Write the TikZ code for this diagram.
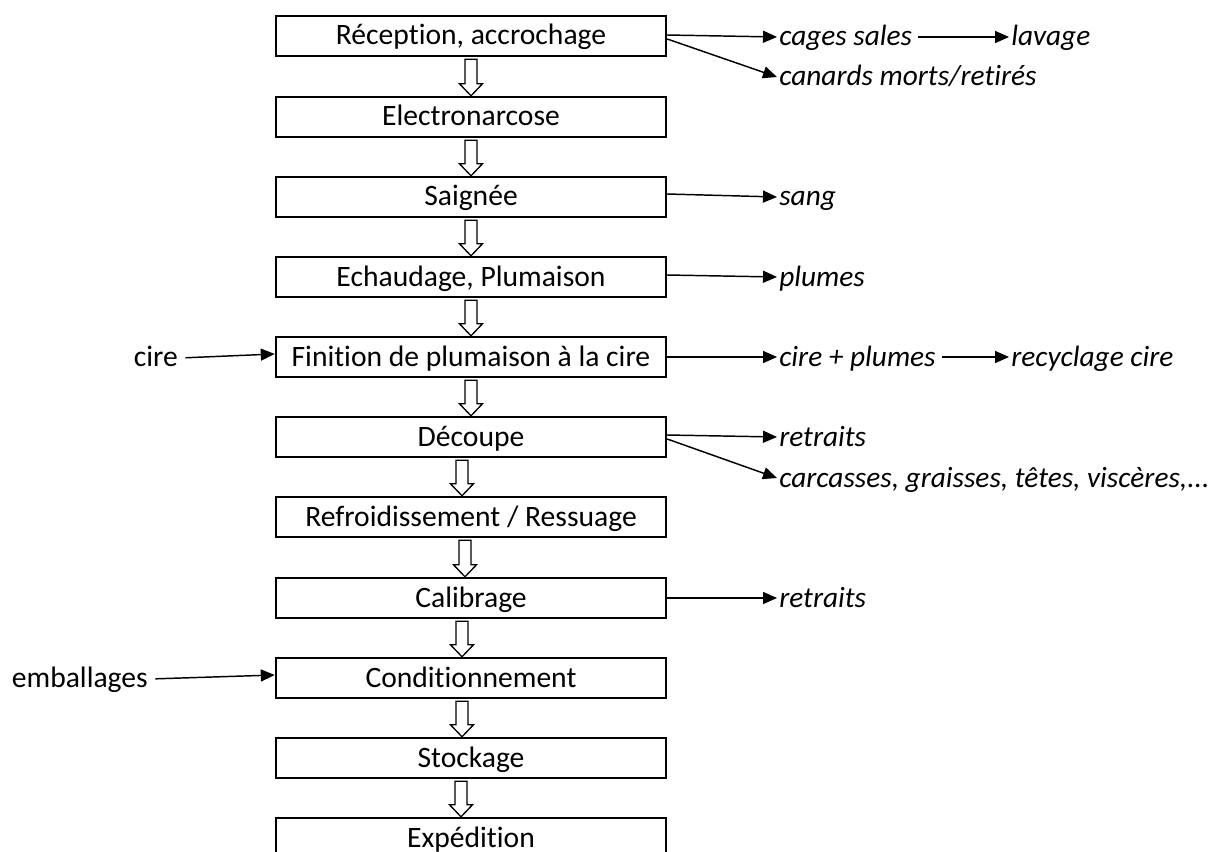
\documentclass[tikz,border=0pt]{standalone}
\usepackage{fontspec}
\setmainfont{Carlito}[Ligatures={NoCommon},ItalicFeatures={RawFeature={-liga;-clig}}]
\usetikzlibrary{arrows.meta,calc}
\begin{document}
\begin{tikzpicture}[x=0.75pt,y=-0.75pt,
  txt/.style={font=\fontsize{22.2}{26}\selectfont,text height=17pt,text depth=3.5pt},
  stepbox/.style={txt,draw,line width=1.8pt,minimum width=292.5pt,minimum height=30pt,inner sep=0pt},
  outtxt/.style={txt,anchor=west,inner sep=1.5pt,font=\fontsize{22}{26}\selectfont\itshape},
  intxt/.style={txt,anchor=east,inner sep=1.5pt},
  flow/.style={line width=1.1pt,-{Triangle[length=10.5pt,width=9pt]}},
  hollow/.style={line width=1pt,line join=miter,
    to path={let \p1=(\tikztostart), \p2=(\tikztotarget) in
      (\x1-4.5pt,\y1) -- (\x1+4.5pt,\y1) -- (\x1+4.5pt,\y2+9pt) -- (\x1+8.6pt,\y2+9pt)
      -- (\x1,\y2) -- (\x1-8.6pt,\y2+9pt) -- (\x1-4.5pt,\y2+9pt) -- cycle}}
]
\useasboundingbox (0,0) rectangle (1223,852);

% process steps
\node[stepbox] (r1)  at (471,36)  {Réception, accrochage};
\node[stepbox] (r2)  at (471,117) {Electronarcose};
\node[stepbox] (r3)  at (471,197) {Saignée};
\node[stepbox] (r4)  at (471,277) {Echaudage, Plumaison};
\node[stepbox] (r5)  at (471,357) {Finition de plumaison à la cire};
\node[stepbox] (r6)  at (471,437) {Découpe};
\node[stepbox] (r7)  at (471,517) {Refroidissement / Ressuage};
\node[stepbox] (r8)  at (471,598) {Calibrage};
\node[stepbox] (r9)  at (471,678) {Conditionnement};
\node[stepbox] (r10) at (471,758) {Stockage};
\node[stepbox] (r11) at (471,838) {Expédition};

% hollow flow arrows
\draw[hollow] ($(r1.south)+(0,2)$) to ($(r2.north)+(0,0)$);
\draw[hollow] ($(r2.south)+(0,2)$) to ($(r3.north)+(0,0)$);
\draw[hollow] ($(r3.south)+(0,2)$) to ($(r4.north)+(0,0)$);
\draw[hollow] ($(r4.south)+(0,2)$) to ($(r5.north)+(0,0)$);
\draw[hollow] ($(r5.south)+(0,2)$) to ($(r6.north)+(0,0)$);
\draw[hollow] ($(r6.south)+(-9,2)$) to ($(r7.north)+(-9,0)$);
\draw[hollow] ($(r7.south)+(-6,2)$) to ($(r8.north)+(-6,0)$);
\draw[hollow] ($(r8.south)+(-9,2)$) to ($(r9.north)+(-9,0)$);
\draw[hollow] ($(r9.south)+(-9,2)$) to ($(r10.north)+(-9,0)$);
\draw[hollow] ($(r10.south)+(-10,2)$) to ($(r11.north)+(-10,0)$);

% outputs
\node[outtxt] (o1)  at (777,37)  {cages sales};
\node[outtxt] (o1b) at (1009,37) {lavage};
\node[outtxt] (o2)  at (777,77)  {canards morts/retirés};
\node[outtxt] (o3)  at (777,197) {sang};
\node[outtxt] (o4)  at (777,277) {plumes};
\node[outtxt] (o5)  at (777,357) {cire + plumes};
\node[outtxt] (o5b) at (1009,357) {recyclage cire};
\node[outtxt] (o6)  at (777,437) {retraits};
\node[outtxt] (o7)  at (777,478) {carcasses, graisses, têtes, viscères,...};
\node[outtxt] (o8)  at (777,598) {retraits};

% inputs
\node[intxt] (i1) at (180,357) {cire};
\node[intxt] (i2) at (150,678) {emballages};

\draw[flow] ($(r1.east)+(0,-1)$) -- (o1.west);
\draw[flow] ($(r1.east)+(0,3)$) -- (o2.west);
\draw[flow,shorten <=3pt] (o1.east) -- (o1b.west);
\draw[flow] ($(r3.east)+(0,-3)$) -- (o3.west);
\draw[flow] ($(r4.east)+(0,-2)$) -- (o4.west);
\draw[flow] (r5.east) -- (o5.west);
\draw[flow,shorten <=3pt] (o5.east) -- (o5b.west);
\draw[flow] ($(r6.east)+(0,-2)$) -- (o6.west);
\draw[flow] ($(r6.east)+(0,2)$) -- (o7.west);
\draw[flow] (r8.east) -- (o8.west);
\draw[flow,shorten <=4pt] ($(i1.east)+(0,1)$) -- ($(r5.west)+(0,-3)$);
\draw[flow,shorten <=4pt] ($(i2.east)+(0,1)$) -- ($(r9.west)+(0,-3)$);
\end{tikzpicture}
\end{document}
